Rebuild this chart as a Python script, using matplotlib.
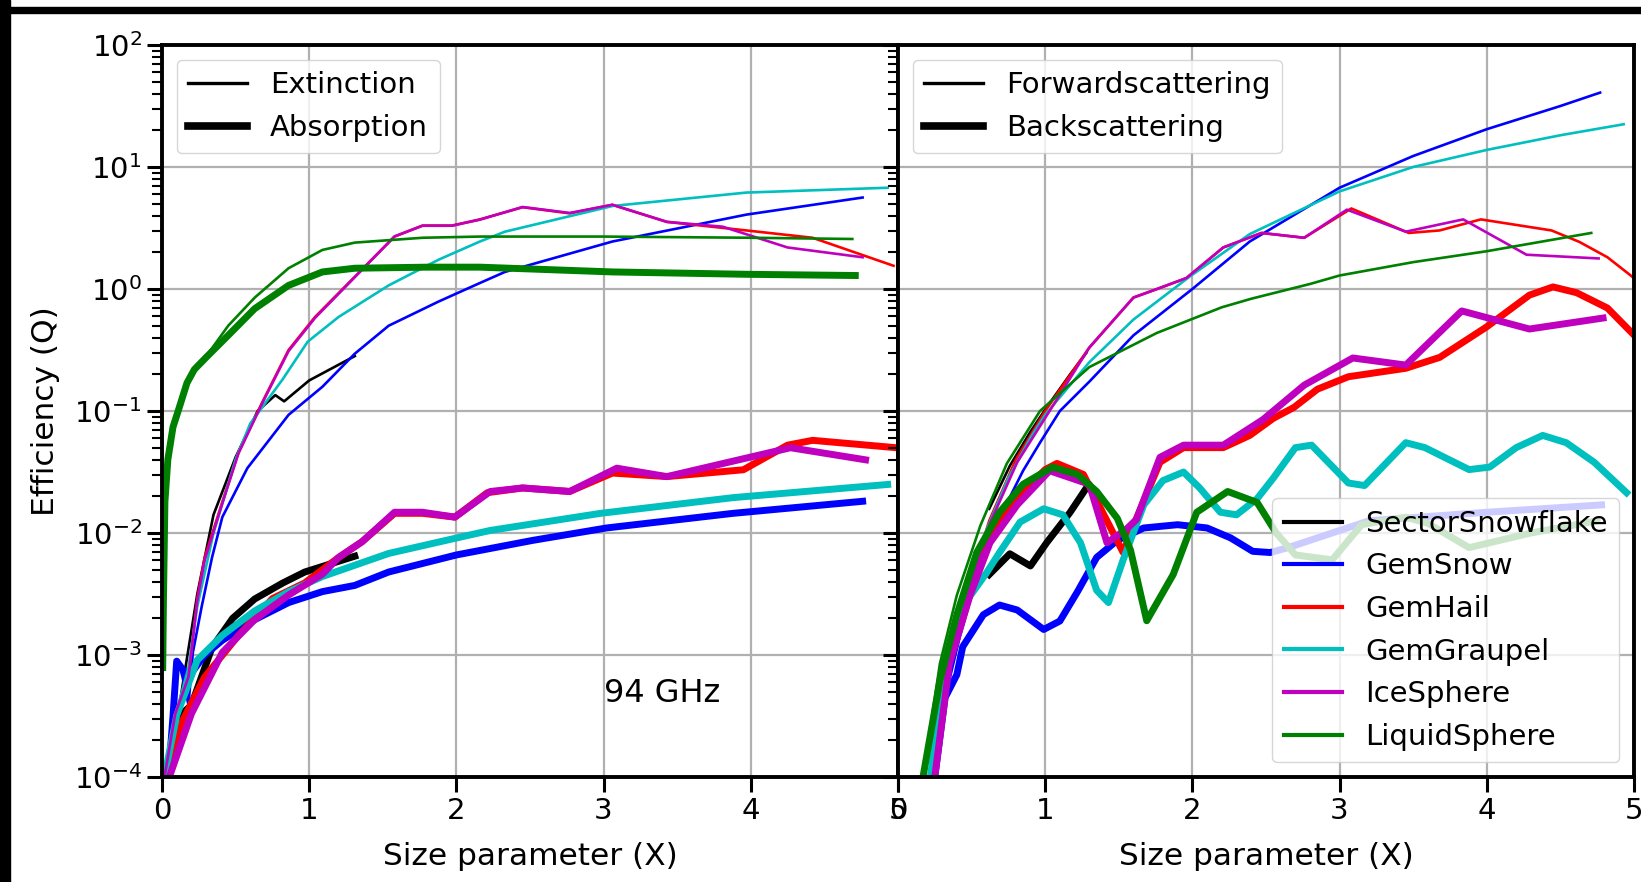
import matplotlib
matplotlib.use("Agg")
import matplotlib.pyplot as plt
from matplotlib.lines import Line2D
from matplotlib.patches import Rectangle

species = ["SectorSnowflake", "GemSnow", "GemHail", "GemGraupel", "IceSphere", "LiquidSphere"]
colors = ["k", "b", "r", "c", "m", "g"]

# ---- extinction / absorption efficiencies ----
snowflake_ext_x = [0.12, 0.24, 0.35, 0.50, 0.65, 0.77, 0.83, 1.00, 1.31]
snowflake_ext = [3.98e-4, 3.16e-3, 1.41e-2, 4.17e-2, 0.10, 0.135, 0.12, 0.178, 0.282]
snowflake_abs_x = [0.12, 0.20, 0.34, 0.48, 0.63, 0.82, 0.97, 1.31]
snowflake_abs = [3.16e-4, 3.89e-4, 1.15e-3, 2.0e-3, 2.88e-3, 3.89e-3, 4.79e-3, 6.46e-3]

snow_ext_x = [0.075, 0.11, 0.14, 0.18, 0.21, 0.27, 0.34, 0.41, 0.58, 0.86, 1.09, 1.31, 1.54,
              1.88, 2.16, 2.33, 3.06, 3.97, 4.76]
snow_ext = [3.1e-4, 9.1e-4, 6.6e-4, 3.9e-4, 1.05e-3, 2.5e-3, 6.3e-3, 1.35e-2, 3.4e-2, 9.3e-2,
            0.158, 0.295, 0.50, 0.79, 1.12, 1.38, 2.45, 4.07, 5.62]
snow_abs_x = [0.05, 0.075, 0.10, 0.13, 0.18, 0.29, 0.41, 0.63, 0.86, 1.09, 1.31, 1.54, 2.0,
              2.52, 3.02, 3.88, 4.76]
snow_abs = [1.26e-4, 3.16e-4, 8.91e-4, 7.94e-4, 6.61e-4, 1.0e-3, 1.32e-3, 1.95e-3, 2.69e-3,
            3.31e-3, 3.72e-3, 4.79e-3, 6.61e-3, 8.71e-3, 1.1e-2, 1.45e-2, 1.82e-2]

hail_ext_x = [0.02, 0.09, 0.18, 0.24, 0.29, 0.41, 0.52, 0.68, 0.86, 1.04, 1.31, 1.58, 1.77, 1.97,
              2.16, 2.45, 2.77, 3.06, 3.43, 3.97, 4.42, 4.97]
hail_ext = [1.05e-4, 3.3e-4, 6.6e-4, 2.9e-3, 6.3e-3, 1.8e-2, 4.6e-2, 0.117, 0.316, 0.59, 1.26,
            2.69, 3.31, 3.31, 3.72, 4.68, 4.17, 4.9, 3.55, 3.02, 2.63, 1.55]
hail_abs_x = [0.02, 0.14, 0.29, 0.52, 0.75, 0.97, 1.20, 1.36, 1.58, 1.77, 1.99, 2.21, 2.45, 2.77,
              3.06, 3.43, 3.95, 4.25, 4.42, 4.99]
hail_abs = [1.05e-4, 2.9e-4, 6.6e-4, 1.45e-3, 2.9e-3, 3.9e-3, 6.3e-3, 8.5e-3, 1.45e-2, 1.45e-2,
            1.35e-2, 2.14e-2, 2.34e-2, 2.19e-2, 3.1e-2, 2.9e-2, 3.3e-2, 5.25e-2, 5.75e-2, 5.0e-2]

graupel_ext_x = [0.02, 0.10, 0.18, 0.24, 0.35, 0.50, 0.60, 0.68, 0.82, 0.99, 1.20, 1.54, 1.88,
                 2.16, 2.33, 3.06, 3.97, 4.93]
graupel_ext = [1.05e-4, 3.5e-4, 7.9e-4, 2.5e-3, 1.0e-2, 4.0e-2, 7.9e-2, 0.107, 0.182, 0.37, 0.59,
               1.07, 1.74, 2.45, 2.95, 4.79, 6.17, 6.76]
graupel_abs_x = [0.02, 0.10, 0.24, 0.41, 0.63, 0.86, 1.09, 1.54, 2.0, 2.23, 2.98, 3.88, 4.93]
graupel_abs = [1.05e-4, 3.2e-4, 9.1e-4, 1.45e-3, 2.3e-3, 3.3e-3, 4.4e-3, 6.8e-3, 9.1e-3, 1.05e-2,
               1.45e-2, 1.95e-2, 2.5e-2]

ice_ext_x = [0.02, 0.09, 0.18, 0.24, 0.29, 0.41, 0.52, 0.68, 0.86, 1.04, 1.31, 1.58, 1.77, 1.97,
             2.16, 2.45, 2.77, 3.06, 3.43, 3.81, 4.25, 4.76]
ice_ext = [1.05e-4, 3.3e-4, 6.6e-4, 2.8e-3, 6.0e-3, 1.75e-2, 4.5e-2, 0.115, 0.31, 0.58, 1.25,
           2.7, 3.3, 3.3, 3.7, 4.7, 4.2, 4.9, 3.55, 3.24, 2.19, 1.82]
ice_abs_x = [0.05, 0.20, 0.41, 0.63, 0.86, 1.09, 1.20, 1.36, 1.58, 1.77, 1.99, 2.23, 2.45, 2.77,
             3.09, 3.43, 3.99, 4.27, 4.78]
ice_abs = [1.0e-4, 3.3e-4, 1.05e-3, 1.95e-3, 3.1e-3, 4.6e-3, 6.3e-3, 8.5e-3, 1.48e-2, 1.48e-2,
           1.35e-2, 2.19e-2, 2.34e-2, 2.19e-2, 3.4e-2, 2.9e-2, 4.17e-2, 5.0e-2, 3.98e-2]

liquid_ext_x = [0.005, 0.01, 0.02, 0.04, 0.075, 0.11, 0.17, 0.22, 0.30, 0.45, 0.63, 0.86, 1.09,
                1.31, 1.77, 2.16, 3.0, 4.0, 4.69]
liquid_ext = [7.9e-4, 2.8e-3, 1.8e-2, 4.0e-2, 7.4e-2, 0.1, 0.17, 0.219, 0.28, 0.50, 0.85, 1.48,
              2.09, 2.4, 2.63, 2.69, 2.69, 2.63, 2.57]
liquid_abs_x = [0.005, 0.01, 0.02, 0.04, 0.075, 0.11, 0.17, 0.22, 0.30, 0.45, 0.63, 0.86, 1.09,
                1.31, 1.8, 2.16, 3.06, 3.97, 4.71]
liquid_abs = [7.9e-4, 2.8e-3, 1.8e-2, 4.0e-2, 7.4e-2, 0.1, 0.17, 0.219, 0.275, 0.417, 0.69, 1.07,
              1.38, 1.48, 1.51, 1.51, 1.38, 1.32, 1.29]

# ---- forward / backscattering efficiencies ----
snowflake_fwd_x = [0.62, 0.76, 0.90, 1.01, 1.17, 1.28]
snowflake_fwd = [1.58e-2, 3.55e-2, 6.76e-2, 0.107, 0.20, 0.30]
snowflake_bk_x = [0.62, 0.76, 0.90, 1.01, 1.17, 1.28]
snowflake_bk = [4.57e-3, 6.76e-3, 5.37e-3, 8.32e-3, 1.48e-2, 2.34e-2]

snow_fwd_x = [0.25, 0.32, 0.42, 0.55, 0.70, 0.85, 0.965, 1.10, 1.30, 1.60, 2.00, 2.39, 3.00,
              3.50, 4.00, 4.50, 4.77]
snow_fwd = [1.0e-4, 4.47e-4, 1.41e-3, 5.01e-3, 1.41e-2, 3.24e-2, 5.5e-2, 0.10, 0.174, 0.417, 1.0,
            2.45, 6.76, 12.3, 20.4, 31.6, 40.7]
snow_bk_x = [0.25, 0.32, 0.40, 0.44, 0.58, 0.69, 0.81, 0.99, 1.10, 1.22, 1.35, 1.49, 1.67, 1.90,
             2.10, 2.26, 2.41, 2.53, 2.65, 3.20, 4.00, 4.78]
snow_bk = [1.0e-4, 4.47e-4, 6.9e-4, 1.17e-3, 2.14e-3, 2.57e-3, 2.34e-3, 1.62e-3, 1.9e-3, 3.31e-3,
           6.31e-3, 8.71e-3, 1.1e-2, 1.17e-2, 1.1e-2, 9.12e-3, 7.08e-3, 6.92e-3, 7.59e-3, 1.26e-2,
           1.48e-2, 1.7e-2]

hail_fwd_x = [0.24, 0.34, 0.48, 0.62, 0.80, 1.00, 1.30, 1.60, 1.76, 1.96, 2.21, 2.47, 2.76, 3.08,
              3.47, 3.68, 3.96, 4.44, 4.63, 4.82, 5.00]
hail_fwd = [1.0e-4, 8.5e-4, 3.55e-3, 1.26e-2, 3.98e-2, 0.10, 0.331, 0.851, 1.0, 1.23, 2.19, 2.88,
            2.63, 4.57, 2.88, 3.02, 3.72, 3.02, 2.43, 1.82, 1.23]
hail_bk_x = [0.24, 0.34, 0.48, 0.62, 0.80, 1.00, 1.08, 1.26, 1.39, 1.53, 1.60, 1.78, 1.94, 2.21,
             2.39, 2.55, 2.69, 2.85, 3.06, 3.45, 3.68, 4.00, 4.29, 4.45, 4.61, 4.82, 5.00]
hail_bk = [1.0e-4, 8.5e-4, 3.16e-3, 8.91e-3, 1.91e-2, 3.31e-2, 3.72e-2, 3.02e-2, 1.48e-2, 6.92e-3,
           1.15e-2, 3.8e-2, 5.01e-2, 5.01e-2, 6.31e-2, 8.71e-2, 0.107, 0.151, 0.191, 0.224, 0.275,
           0.49, 0.891, 1.04, 0.933, 0.698, 0.42]

graupel_fwd_x = [0.22, 0.33, 0.47, 0.60, 0.75, 0.90, 1.00, 1.30, 1.60, 1.98, 2.39, 3.00, 3.50,
                 4.00, 4.50, 4.93]
graupel_fwd = [1.0e-4, 8.5e-4, 3.16e-3, 1.05e-2, 2.82e-2, 6.03e-2, 9.33e-2, 0.251, 0.562, 1.26,
               2.82, 6.31, 10.0, 13.8, 18.2, 22.4]
graupel_bk_x = [0.22, 0.33, 0.47, 0.60, 0.69, 0.83, 0.99, 1.12, 1.24, 1.35, 1.43, 1.53, 1.67,
                1.80, 1.94, 2.05, 2.19, 2.30, 2.44, 2.55, 2.70, 2.81, 3.06, 3.17, 3.45, 3.58,
                3.88, 4.02, 4.20, 4.38, 4.54, 4.73, 4.95]
graupel_bk = [1.0e-4, 8.5e-4, 2.82e-3, 4.68e-3, 6.92e-3, 1.23e-2, 1.58e-2, 1.41e-2, 8.32e-3,
              3.39e-3, 2.69e-3, 6.03e-3, 1.7e-2, 2.69e-2, 3.16e-2, 2.34e-2, 1.48e-2, 1.41e-2,
              1.91e-2, 2.82e-2, 5.01e-2, 5.25e-2, 2.57e-2, 2.45e-2, 5.5e-2, 5.01e-2, 3.31e-2,
              3.47e-2, 5.01e-2, 6.31e-2, 5.5e-2, 3.8e-2, 2.14e-2]

ice_fwd_x = [0.25, 0.35, 0.49, 0.625, 0.81, 1.03, 1.30, 1.60, 1.76, 1.96, 2.21, 2.47, 2.76,
             3.05, 3.45, 3.84, 4.27, 4.76]
ice_fwd = [1.0e-4, 8.5e-4, 3.55e-3, 1.2e-2, 3.8e-2, 0.10, 0.331, 0.851, 1.0, 1.23, 2.19, 2.88,
           2.63, 4.47, 2.95, 3.72, 1.91, 1.78]
ice_bk_x = [0.25, 0.35, 0.49, 0.625, 0.81, 1.03, 1.30, 1.42, 1.55, 1.62, 1.78, 1.94, 2.21, 2.48,
            2.76, 3.09, 3.45, 3.83, 4.29, 4.79]
ice_bk = [1.0e-4, 8.5e-4, 3.09e-3, 8.32e-3, 1.7e-2, 3.24e-2, 2.51e-2, 8.32e-3, 1.07e-2, 1.29e-2,
          4.17e-2, 5.25e-2, 5.25e-2, 8.51e-2, 0.163, 0.272, 0.238, 0.661, 0.47, 0.578]

liquid_fwd_x = [0.17, 0.285, 0.40, 0.56, 0.74, 0.965, 1.30, 1.76, 2.20, 2.40, 2.80, 3.00, 3.50,
                4.00, 4.71]
liquid_fwd = [1.0e-4, 8.5e-4, 3.09e-3, 1.15e-2, 3.72e-2, 0.10, 0.229, 0.437, 0.708, 0.832, 1.1,
              1.29, 1.66, 2.04, 2.88]
liquid_bk_x = [0.17, 0.285, 0.40, 0.535, 0.69, 0.85, 1.05, 1.22, 1.35, 1.49, 1.58, 1.69, 1.87,
               2.03, 2.24, 2.44, 2.57, 2.70, 2.95, 3.15, 3.45, 3.60, 3.88, 4.30, 4.75]
liquid_bk = [1.0e-4, 6.17e-4, 2.14e-3, 6.92e-3, 1.48e-2, 2.51e-2, 3.47e-2, 3.02e-2, 2.19e-2,
             1.32e-2, 7.24e-3, 1.91e-3, 4.57e-3, 1.48e-2, 2.19e-2, 1.78e-2, 1.0e-2, 6.61e-3,
             6.03e-3, 1.17e-2, 1.35e-2, 1.2e-2, 7.59e-3, 1.0e-2, 1.26e-2]

ext_data = [(snowflake_ext_x, snowflake_ext), (snow_ext_x, snow_ext), (hail_ext_x, hail_ext),
            (graupel_ext_x, graupel_ext), (ice_ext_x, ice_ext), (liquid_ext_x, liquid_ext)]
abs_data = [(snowflake_abs_x, snowflake_abs), (snow_abs_x, snow_abs), (hail_abs_x, hail_abs),
            (graupel_abs_x, graupel_abs), (ice_abs_x, ice_abs), (liquid_abs_x, liquid_abs)]
fwd_data = [(snowflake_fwd_x, snowflake_fwd), (snow_fwd_x, snow_fwd), (hail_fwd_x, hail_fwd),
            (graupel_fwd_x, graupel_fwd), (ice_fwd_x, ice_fwd), (liquid_fwd_x, liquid_fwd)]
bk_data = [(snowflake_bk_x, snowflake_bk), (snow_bk_x, snow_bk), (hail_bk_x, hail_bk),
           (graupel_bk_x, graupel_bk), (ice_bk_x, ice_bk), (liquid_bk_x, liquid_bk)]

THIN = 1.9
THICK = 5.0
TICK_FS = 21
LABEL_FS = 22.5
LEG_FS = 21

fig = plt.figure(figsize=(16.41, 8.82), dpi=100)
ax1, ax2 = fig.subplots(1, 2, sharey=True)
fig.subplots_adjust(left=0.0987, right=0.9957, top=0.949, bottom=0.119, wspace=0)

for i in range(len(species)):
    ax1.plot(*ext_data[i], color=colors[i], lw=THIN)
    ax1.plot(*abs_data[i], color=colors[i], lw=THICK)
    ax2.plot(*fwd_data[i], color=colors[i], lw=THIN)
    ax2.plot(*bk_data[i], color=colors[i], lw=THICK)

for ax in (ax1, ax2):
    ax.set_yscale('log')
    ax.set_ylim(1e-4, 1e2)
    ax.set_xlim(0, 5)
    ax.set_xticks([0, 1, 2, 3, 4, 5])
    ax.grid(True, which='major', color='#b0b0b0', lw=1.6)
    ax.set_xlabel('Size parameter (X)', fontsize=LABEL_FS, labelpad=12)
    ax.tick_params(which='major', length=11, width=2.2, labelsize=TICK_FS)
    ax.tick_params(which='minor', length=7, width=1.5)
    for sp in ax.spines.values():
        sp.set_linewidth(2.8)

ax1.set_ylabel('Efficiency (Q)', fontsize=LABEL_FS, labelpad=10)
ax1.text(3.0, 4.8e-4, '94 GHz', fontsize=23, va='center')

ax1.legend(handles=[Line2D([0], [0], color='k', lw=2.4), Line2D([0], [0], color='k', lw=5.5)],
           labels=['Extinction', 'Absorption'], loc='upper left', fontsize=LEG_FS)

type_leg = ax2.legend(handles=[Line2D([0], [0], color='k', lw=2.4),
                               Line2D([0], [0], color='k', lw=5.5)],
                      labels=['Forwardscattering', 'Backscattering'], loc='upper left',
                      fontsize=LEG_FS)
ax2.add_artist(type_leg)
ax2.legend(handles=[Line2D([0], [0], color=c, lw=3) for c in colors], labels=species,
           loc='lower right', fontsize=LEG_FS)

# dark frame strips along the top and left edge
fig.add_artist(Rectangle((0, 0), 10 / 1641, 1, transform=fig.transFigure, color='k', zorder=10))
fig.add_artist(Rectangle((0, 1 - 13 / 882), 1, 6 / 882, transform=fig.transFigure, color='k',
                         zorder=10))

fig.savefig('out.png', dpi=100)
